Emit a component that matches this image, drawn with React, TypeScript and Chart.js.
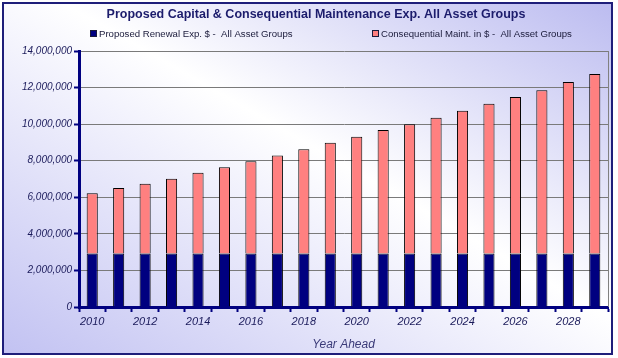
import React, { useEffect, useRef } from "react";
import { Chart, registerables } from "chart.js";

Chart.register(...registerables);

const TITLE = "Proposed Capital & Consequential Maintenance Exp. All Asset Groups";
const X_TITLE = "Year Ahead";
const SERIES_NAMES = [
  "Proposed Renewal Exp. $ -  All Asset Groups",
  "Consequential Maint. in $ -  All Asset Groups",
];

const years = [
  "2010", "2011", "2012", "2013", "2014", "2015", "2016", "2017", "2018", "2019",
  "2020", "2021", "2022", "2023", "2024", "2025", "2026", "2027", "2028", "2029",
];

const renewal = [
  2920000, 2920000, 2920000, 2920000, 2920000, 2920000, 2920000, 2920000, 2920000, 2920000,
  2920000, 2920000, 2920000, 2920000, 2920000, 2920000, 2920000, 2920000, 2920000, 2920000,
];

const maintenance = [
  3300000, 3590000, 3820000, 4100000, 4420000, 4720000, 5050000, 5370000, 5710000, 6060000,
  6390000, 6760000, 7070000, 7430000, 7810000, 8200000, 8560000, 8940000, 9380000, 9820000,
];

const yTicks = [0, 2000000, 4000000, 6000000, 8000000, 10000000, 12000000, 14000000];

const NAVY = "#000080";
const SALMON = "#FF8080";
const FONT = '"Liberation Sans", Arial, sans-serif';

const decor = {
  id: "decor",
  beforeDatasetsDraw(chart: any) {
    const { ctx, chartArea } = chart;
    ctx.save();
    ctx.strokeStyle = "#808080";
    ctx.lineWidth = 1;
    ctx.beginPath();
    ctx.moveTo(Math.round(chartArea.right) + 0.5, chartArea.top);
    ctx.lineTo(Math.round(chartArea.right) + 0.5, chartArea.bottom);
    ctx.stroke();
    ctx.restore();
  },
  afterDraw(chart: any) {
    const { ctx } = chart;
    ctx.save();
    ctx.textBaseline = "middle";
    ctx.textAlign = "center";
    ctx.fillStyle = "#1c1c6c";
    ctx.font = `bold 12.5px ${FONT}`;
    ctx.fillText(TITLE, 316, 15);

    ctx.textAlign = "left";
    ctx.font = `9.6px ${FONT}`;
    const items = [
      { x: 90, color: NAVY, label: SERIES_NAMES[0] },
      { x: 372, color: SALMON, label: SERIES_NAMES[1] },
    ];
    for (const it of items) {
      ctx.fillStyle = it.color;
      ctx.fillRect(it.x, 30, 7, 7);
      ctx.strokeStyle = "#1a1a3a";
      ctx.lineWidth = 1;
      ctx.strokeRect(it.x + 0.5, 30.5, 6, 6);
      ctx.fillStyle = "#1a1a3a";
      ctx.fillText(it.label, it.x + 9, 34);
    }
    ctx.restore();
  },
};

export default function App() {
  const ref = useRef<HTMLCanvasElement>(null);

  useEffect(() => {
    if (!ref.current) return;
    const chart = new Chart(ref.current, {
      type: "bar",
      data: {
        labels: years,
        datasets: [
          {
            label: SERIES_NAMES[0],
            data: renewal,
            backgroundColor: NAVY,
            borderColor: "#000000",
            borderWidth: 1,
            barPercentage: 0.42,
            categoryPercentage: 1,
          },
          {
            label: SERIES_NAMES[1],
            data: maintenance,
            backgroundColor: SALMON,
            borderColor: "#000000",
            borderWidth: 1,
            barPercentage: 0.42,
            categoryPercentage: 1,
          },
        ],
      },
      plugins: [decor],
      options: {
        animation: false,
        responsive: false,
        maintainAspectRatio: false,
        layout: { padding: { left: 0, right: 10, top: 51, bottom: 0 } },
        plugins: {
          legend: { display: false },
          title: { display: false },
          tooltip: { enabled: false },
        },
        scales: {
          x: {
            stacked: true,
            offset: true,
            grid: {
              offset: true,
              drawOnChartArea: false,
              drawTicks: true,
              tickLength: 5,
              tickColor: NAVY,
              tickWidth: 2,
            },
            border: { color: NAVY, width: 3 },
            ticks: {
              autoSkip: false,
              maxRotation: 0,
              minRotation: 0,
              padding: 3,
              color: "#1a1a5a",
              font: { family: FONT, size: 11, style: "italic" },
              callback: (_v: any, i: number) => (i % 2 === 0 ? years[i] : ""),
            },
            title: {
              display: true,
              text: X_TITLE,
              color: "#3a3a78",
              font: { family: FONT, size: 12, style: "italic" },
              padding: { top: 6, bottom: 6 },
            },
            afterFit: (s: any) => {
              s.height = 51;
            },
          },
          y: {
            stacked: true,
            min: 0,
            max: 14000000,
            afterBuildTicks: (s: any) => {
              s.ticks = yTicks.map((v) => ({ value: v }));
            },
            grid: {
              color: "#7a7a7a",
              lineWidth: 1,
              tickLength: 5,
              tickColor: NAVY,
              tickWidth: 2,
            },
            border: { color: NAVY, width: 3 },
            ticks: {
              padding: 2,
              color: "#1a1a5a",
              font: { family: FONT, size: 10, style: "italic" },
              callback: (v: any) => Number(v).toLocaleString("en-US"),
            },
            afterFit: (s: any) => {
              s.width = 79;
            },
          },
        },
      },
    });
    return () => chart.destroy();
  }, []);

  return (
    <div style={{ position: "fixed", left: 0, top: 0, width: 618, height: 358, background: "#ffffff" }}>
      <div
        style={{
          position: "absolute",
          left: 2,
          top: 2,
          width: 607,
          height: 349,
          border: "2px solid #1e1e7a",
          background: "linear-gradient(to top right, #c2c2f2 0%, #f4f4fd 45%, #ffffff 55%, #bcbcf0 100%)",
        }}
      />
      <canvas
        ref={ref}
        width={618}
        height={358}
        style={{ position: "absolute", left: 0, top: 0, width: 618, height: 358 }}
      />
    </div>
  );
}
